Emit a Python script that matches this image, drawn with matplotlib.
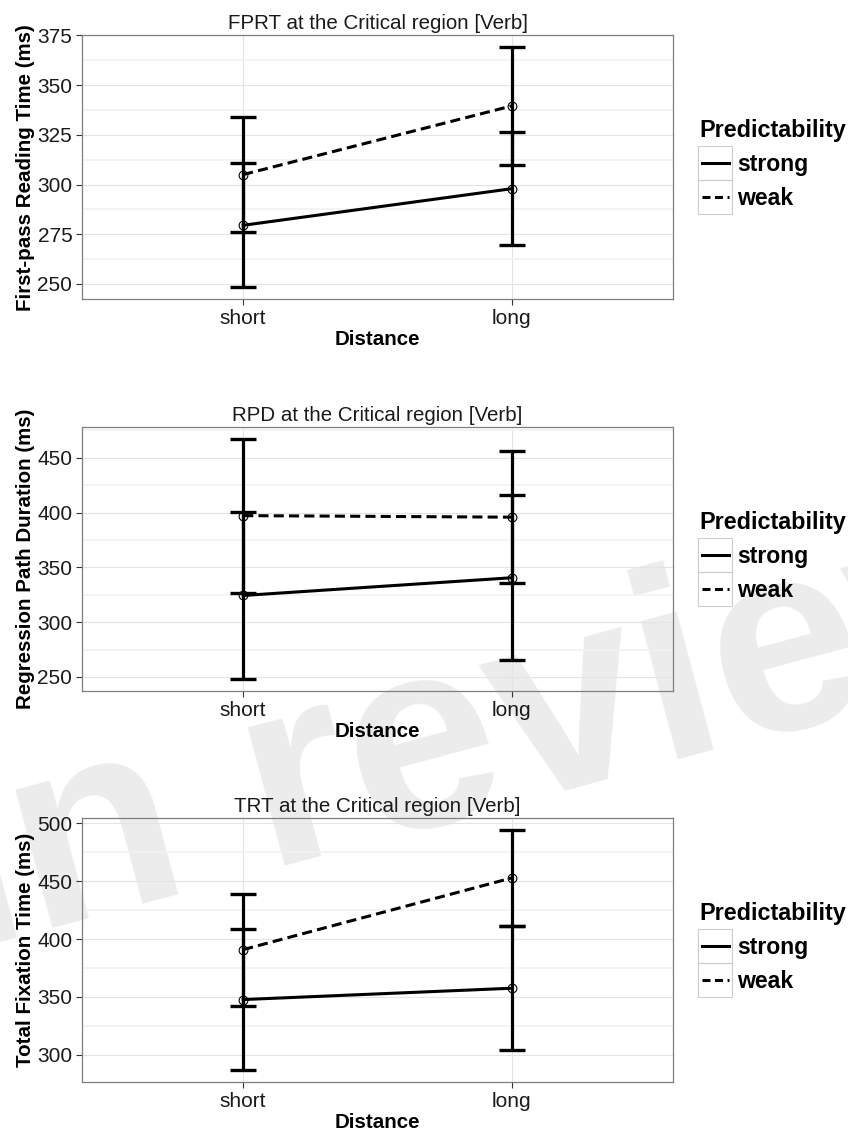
import matplotlib
matplotlib.use("Agg")
import matplotlib.pyplot as plt
from matplotlib.lines import Line2D
from matplotlib.patches import Rectangle
import numpy as np

plt.rcParams["font.family"] = ["Liberation Sans", "DejaVu Sans"]

# --- data ---
distance = ["short", "long"]
groups = ["strong", "weak"]

titles = ["FPRT at the Critical region [Verb]",
          "RPD at the Critical region [Verb]",
          "TRT at the Critical region [Verb]"]
ylabels = ["First-pass Reading Time (ms)",
           "Regression Path Duration (ms)",
           "Total Fixation Time (ms)"]

fprt_strong = [279.5, 297.9]
fprt_strong_err = [31.2, 28.3]
fprt_weak = [305.0, 339.5]
fprt_weak_err = [29.0, 29.6]

rpd_strong = [324.3, 340.5]
rpd_strong_err = [76.3, 75.5]
rpd_weak = [397.2, 395.8]
rpd_weak_err = [70.2, 60.2]

trt_strong = [347.7, 357.5]
trt_strong_err = [61.0, 53.5]
trt_weak = [390.9, 452.9]
trt_weak_err = [48.4, 41.7]

yticks_fprt = [250, 275, 300, 325, 350, 375]
yticks_rpd = [250, 300, 350, 400, 450]
yticks_trt = [300, 350, 400, 450, 500]

panels = [
    (fprt_strong, fprt_strong_err, fprt_weak, fprt_weak_err, yticks_fprt),
    (rpd_strong, rpd_strong_err, rpd_weak, rpd_weak_err, yticks_rpd),
    (trt_strong, trt_strong_err, trt_weak, trt_weak_err, yticks_trt),
]

# --- layout in pixels ---
W, H = 848, 1133
def fx(px):
    return px / W
def fy(py):
    return 1 - py / H

left, right = 82, 673
tops = [35, 426.7, 817.7]
ph = 264.4

dash_main = (0, (3.3, 1.7))
dash_key = (0, (2.6, 1.5))

fig = plt.figure(figsize=(W / 100, H / 100), dpi=100)
fig.patch.set_facecolor("white")

# watermark behind the panels
fig.text(fx(-38), fy(952), "In review", fontsize=195, fontweight="bold",
         color="#ECECEC", rotation=15, rotation_mode="anchor",
         ha="left", va="baseline", zorder=-10)

x = np.arange(1, len(distance) + 1)

for i, (s, se, w, we, yt) in enumerate(panels):
    top = tops[i]
    ax = fig.add_axes([fx(left), fy(top + ph), (right - left) / W, ph / H])
    ax.set_facecolor("none")

    s, se, w, we = map(np.asarray, (s, se, w, we))
    lo = min((s - se).min(), (w - we).min())
    hi = max((s + se).max(), (w + we).max())
    pad = 0.05 * (hi - lo)

    step = yt[1] - yt[0]
    minor = np.arange(yt[0] - step / 2, yt[-1] + step, step)
    ax.set_yticks(yt)
    ax.set_yticks(minor, minor=True)
    ax.set_xticks(x)
    ax.set_xticklabels(distance)
    ax.set_ylim(lo - pad, hi + pad)
    ax.set_xlim(0.4, 2.6)

    ax.grid(True, which="major", color="#E4E4E4", lw=0.8, zorder=0)
    ax.grid(True, which="minor", axis="y", color="#F2F2F2", lw=1.2, zorder=0)
    ax.set_axisbelow(True)

    for sp in ax.spines.values():
        sp.set_color("#7F7F7F")
        sp.set_linewidth(0.9)

    ax.tick_params(which="major", length=4.5, width=0.8, color="#333333",
                   labelsize=15, labelcolor="#1A1A1A", pad=2.5)
    ax.tick_params(which="minor", length=0)

    ax.plot(x, s, color="black", lw=2.2, ls="-", marker="o", mfc="none",
            mec="black", ms=6.3, mew=0.8, zorder=3)
    ax.plot(x, w, color="black", lw=2.2, ls=dash_main, marker="o", mfc="none",
            mec="black", ms=6.3, mew=0.8, zorder=3)
    ax.errorbar(x, s, yerr=se, fmt="none", ecolor="black", elinewidth=2.3,
                capsize=9.5, capthick=2.4, zorder=4)
    ax.errorbar(x, w, yerr=we, fmt="none", ecolor="black", elinewidth=2.3,
                capsize=9.5, capthick=2.4, zorder=4)

    ax.set_title(titles[i], fontsize=14.8, color="#1A1A1A", pad=4.3)
    ax.set_xlabel("Distance", fontsize=14.8, fontweight="bold", labelpad=1.5)
    ax.set_ylabel(ylabels[i], fontsize=14.8, fontweight="bold", labelpad=1.5)

    # legend, drawn by hand to get the ggplot key boxes
    c = top + ph / 2
    fig.text(fx(699), fy(c - 30), "Predictability", fontsize=16.8,
             fontweight="bold", ha="left", va="baseline")
    for k, (lab, ls) in enumerate(zip(groups, ["-", dash_key])):
        ktop = c - 21.3 + k * 34.2
        fig.add_artist(Rectangle((fx(698.3), fy(ktop + 34.2)), 34 / W, 34.2 / H,
                                 transform=fig.transFigure, fc="none",
                                 ec="#CCCCCC", lw=0.8))
        yc = ktop + 17.1
        fig.add_artist(Line2D([fx(702), fx(729)], [fy(yc), fy(yc)],
                              transform=fig.transFigure, color="black",
                              lw=2.2, ls=ls))
        fig.text(fx(737), fy(yc + 8), lab, fontsize=16.6, fontweight="bold",
                 ha="left", va="baseline")

fig.savefig("out.png", dpi=100)
